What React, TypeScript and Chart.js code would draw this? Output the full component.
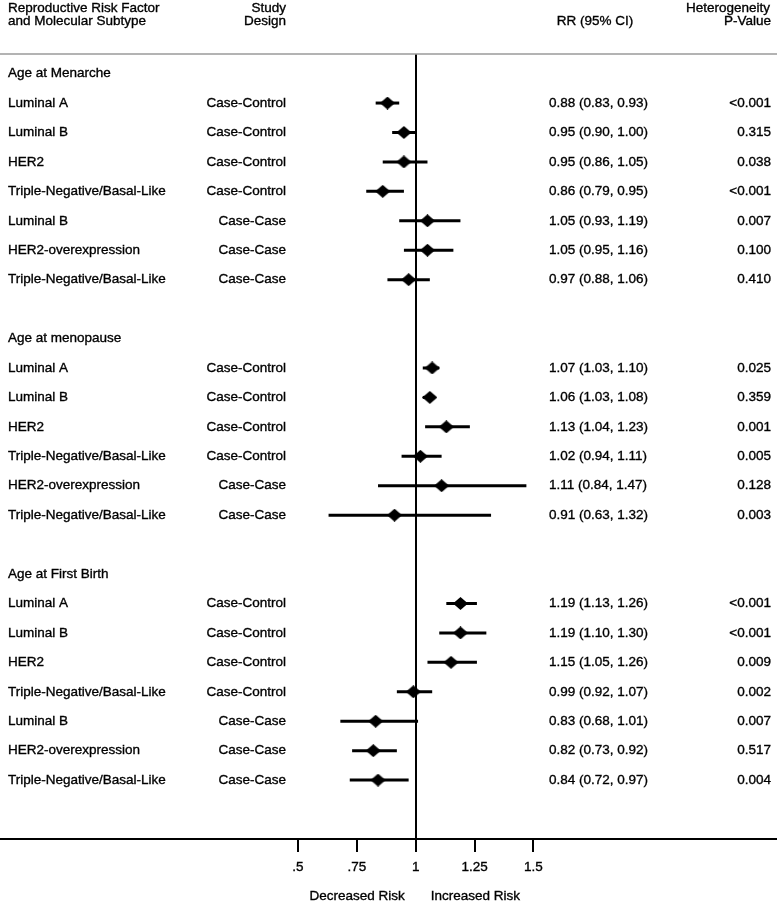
import React, { useEffect, useRef } from "react";
import { Chart, registerables } from "chart.js";

Chart.register(...registerables);

const FONT = "'Liberation Sans', Arial, Helvetica, sans-serif";

const groupTitles = ["Age at Menarche", "Age at menopause", "Age at First Birth"];
const groupRowIndex = [0, 9, 17];

const rowIndex = [1, 2, 3, 4, 5, 6, 7, 10, 11, 12, 13, 14, 15, 18, 19, 20, 21, 22, 23, 24];
const subtypes = [
  "Luminal A", "Luminal B", "HER2", "Triple-Negative/Basal-Like", "Luminal B", "HER2-overexpression", "Triple-Negative/Basal-Like",
  "Luminal A", "Luminal B", "HER2", "Triple-Negative/Basal-Like", "HER2-overexpression", "Triple-Negative/Basal-Like",
  "Luminal A", "Luminal B", "HER2", "Triple-Negative/Basal-Like", "Luminal B", "HER2-overexpression", "Triple-Negative/Basal-Like",
];
const designs = [
  "Case-Control", "Case-Control", "Case-Control", "Case-Control", "Case-Case", "Case-Case", "Case-Case",
  "Case-Control", "Case-Control", "Case-Control", "Case-Control", "Case-Case", "Case-Case",
  "Case-Control", "Case-Control", "Case-Control", "Case-Control", "Case-Case", "Case-Case", "Case-Case",
];
const rrValues = [0.88, 0.95, 0.95, 0.86, 1.05, 1.05, 0.97, 1.07, 1.06, 1.13, 1.02, 1.11, 0.91, 1.19, 1.19, 1.15, 0.99, 0.83, 0.82, 0.84];
const ciLower = [0.83, 0.90, 0.86, 0.79, 0.93, 0.95, 0.88, 1.03, 1.03, 1.04, 0.94, 0.84, 0.63, 1.13, 1.10, 1.05, 0.92, 0.68, 0.73, 0.72];
const ciUpper = [0.93, 1.00, 1.05, 0.95, 1.19, 1.16, 1.06, 1.10, 1.08, 1.23, 1.11, 1.47, 1.32, 1.26, 1.30, 1.26, 1.07, 1.01, 0.92, 0.97];
const pValues = [
  "<0.001", "0.315", "0.038", "<0.001", "0.007", "0.100", "0.410",
  "0.025", "0.359", "0.001", "0.005", "0.128", "0.003",
  "<0.001", "<0.001", "0.009", "0.002", "0.007", "0.517", "0.004",
];

const tickValues = [0.5, 0.75, 1, 1.25, 1.5];
const tickLabels = [".5", ".75", "1", "1.25", "1.5"];

function makeDiamond(): HTMLCanvasElement {
  const c = document.createElement("canvas");
  c.width = 15;
  c.height = 13;
  const g = c.getContext("2d")!;
  g.fillStyle = "#000";
  g.beginPath();
  g.moveTo(0, 6.5);
  g.lineTo(7.5, 0);
  g.lineTo(15, 6.5);
  g.lineTo(7.5, 13);
  g.closePath();
  g.fill();
  return c;
}

function txt(ctx: CanvasRenderingContext2D, s: string, x: number, y: number) {
  ctx.fillText(s, x, y);
  ctx.strokeText(s, x, y);
}

const textPlugin = {
  id: "forestText",
  afterDraw(chart: any) {
    const { ctx, chartArea, scales } = chart;
    const y = scales.y;
    const x = scales.x;
    ctx.save();
    // top rule
    ctx.strokeStyle = "#9a9a9a";
    ctx.lineWidth = 1.5;
    ctx.beginPath();
    ctx.moveTo(chartArea.left, chartArea.top);
    ctx.lineTo(chartArea.right, chartArea.top);
    ctx.stroke();

    ctx.fillStyle = "#000";
    ctx.strokeStyle = "#000";
    ctx.lineWidth = 0.35;
    ctx.font = `13.5px ${FONT}`;
    ctx.textBaseline = "middle";

    // column headers
    ctx.textAlign = "left";
    txt(ctx, "Reproductive Risk Factor", 8, 8);
    txt(ctx, "and Molecular Subtype", 8, 21);
    ctx.textAlign = "right";
    txt(ctx, "Study", 286, 8);
    txt(ctx, "Design", 286, 21);
    ctx.textAlign = "center";
    txt(ctx, "RR (95% CI)", 595, 21);
    ctx.textAlign = "right";
    txt(ctx, "Heterogeneity", 770, 8);
    txt(ctx, "P-Value", 771, 21);

    // group headers
    ctx.textAlign = "left";
    groupTitles.forEach((t, i) => {
      txt(ctx, t, 8, y.getPixelForValue(groupRowIndex[i]));
    });

    rowIndex.forEach((r, i) => {
      const py = y.getPixelForValue(r);
      ctx.textAlign = "left";
      txt(ctx, subtypes[i], 8, py);
      ctx.textAlign = "right";
      txt(ctx, designs[i], 286, py);
      ctx.textAlign = "left";
      txt(
        ctx,
        `${rrValues[i].toFixed(2)} (${ciLower[i].toFixed(2)}, ${ciUpper[i].toFixed(2)})`,
        549,
        py
      );
      ctx.textAlign = "right";
      txt(ctx, pValues[i], 771, py);
    });

    // direction labels
    const one = x.getPixelForValue(1);
    ctx.textAlign = "right";
    txt(ctx, "Decreased Risk", one - 11, 896);
    ctx.textAlign = "left";
    txt(ctx, "Increased Risk", one + 15, 896);
    ctx.restore();
  },
};

export default function App() {
  const ref = useRef<HTMLCanvasElement | null>(null);
  useEffect(() => {
    document.body.style.margin = "0";
    const diamond = makeDiamond();
    const ciSets = rowIndex.map((r, i) => ({
      type: "line" as const,
      data: [
        { x: ciLower[i], y: r },
        { x: ciUpper[i], y: r },
      ],
      borderColor: "#000",
      borderWidth: 3,
      pointRadius: 0,
      showLine: true,
      fill: false,
    }));
    const chart = new Chart(ref.current!, {
      type: "scatter",
      data: {
        datasets: [
          ...ciSets,
          {
            type: "scatter" as const,
            data: rowIndex.map((r, i) => ({ x: rrValues[i], y: r })),
            pointStyle: diamond as any,
            pointRadius: 7,
            backgroundColor: "#000",
            borderColor: "#000",
          },
        ] as any,
      },
      options: {
        responsive: false,
        animation: false,
        events: [],
        layout: { autoPadding: false, padding: { top: 54, left: 0, right: 0, bottom: 0 } },
        plugins: { legend: { display: false }, tooltip: { enabled: false } },
        scales: {
          x: {
            type: "linear",
            min: -0.7652,
            max: 2.5342,
            afterBuildTicks: (scale: any) => {
              scale.ticks = tickValues.map((v) => ({ value: v }));
            },
            afterFit: (scale: any) => {
              scale.height = 63;
              scale.paddingLeft = 0;
              scale.paddingRight = 0;
            },
            ticks: {
              autoSkip: false,
              maxRotation: 0,
              padding: 7,
              color: "#000",
              textStrokeColor: "#000",
              textStrokeWidth: 0.35,
              font: { family: FONT, size: 13.5 },
              callback: (v: any) => {
                const idx = tickValues.indexOf(Number(v));
                return idx >= 0 ? tickLabels[idx] : "";
              },
            },
            grid: {
              drawOnChartArea: true,
              color: (c: any) => (c.tick && c.tick.value === 1 ? "#000" : "rgba(0,0,0,0)"),
              lineWidth: 2,
              tickColor: "#000",
              tickLength: 13,
              tickWidth: 2,
            },
            border: { display: true, color: "#000", width: 2 },
          },
          y: {
            type: "linear",
            display: false,
            reverse: true,
            min: -0.666,
            max: 26.0,
          },
        },
      },
      plugins: [textPlugin],
    });
    return () => chart.destroy();
  }, []);
  return <canvas ref={ref} width={777} height={902} style={{ display: "block" }} />;
}
